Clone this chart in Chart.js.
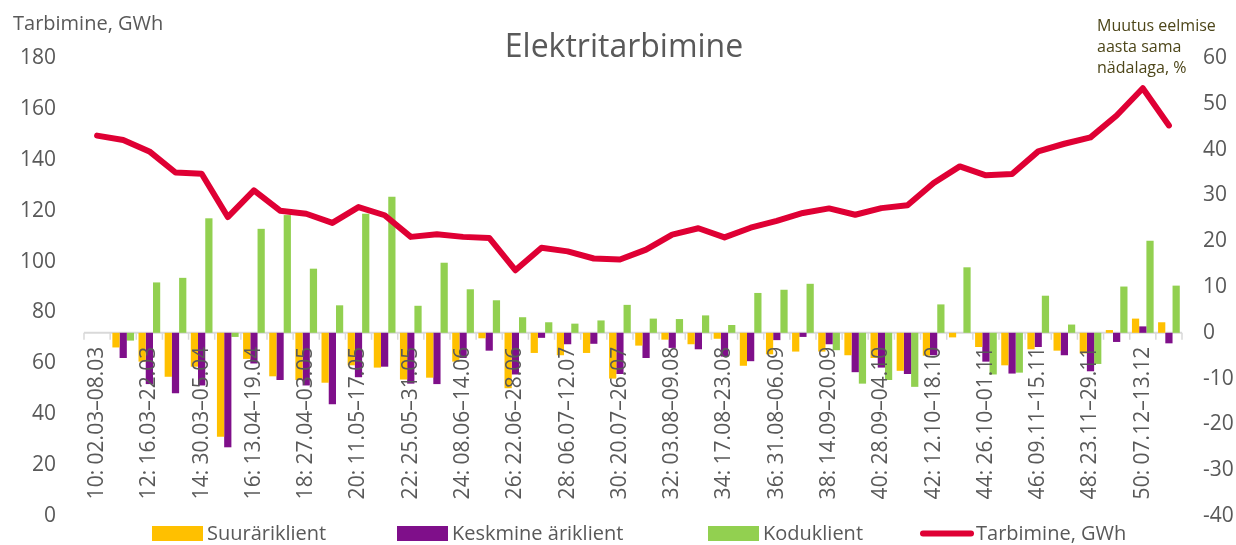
<!DOCTYPE html>
<html><head><meta charset="utf-8">
<script src="https://cdn.jsdelivr.net/npm/chart.js@4/dist/chart.umd.min.js"></script>
<style>html,body{margin:0;padding:0;background:#fff}</style>
</head><body>
<canvas id="c" width="1236" height="545"></canvas>
<script>
const weekLabels = [
 "10: 02.03–08.03","11: 09.03–15.03","12: 16.03–22.03","13: 23.03–29.03","14: 30.03–05.04",
 "15: 06.04–12.04","16: 13.04–19.04","17: 20.04–26.04","18: 27.04–03.05","19: 04.05–10.05",
 "20: 11.05–17.05","21: 18.05–24.05","22: 25.05–31.05","23: 01.06–07.06","24: 08.06–14.06",
 "25: 15.06–21.06","26: 22.06–28.06","27: 29.06–05.07","28: 06.07–12.07","29: 13.07–19.07",
 "30: 20.07–26.07","31: 27.07–02.08","32: 03.08–09.08","33: 10.08–16.08","34: 17.08–23.08",
 "35: 24.08–30.08","36: 31.08–06.09","37: 07.09–13.09","38: 14.09–20.09","39: 21.09–27.09",
 "40: 28.09–04.10","41: 05.10–11.10","42: 12.10–18.10","43: 19.10–25.10","44: 26.10–01.11",
 "45: 02.11–08.11","46: 09.11–15.11","47: 16.11–22.11","48: 23.11–29.11","49: 30.11–06.12",
 "50: 07.12–13.12","51: 14.12–20.12"
];
const suurariklient = [null,-3.2,-6.3,-9.6,-7.4,-22.7,-5.7,-9.5,-10.3,-10.9,-7.1,-7.6,-10.2,-9.8,-6.3,-1.2,-12.1,-4.4,-4.9,-4.4,-10.0,-2.8,-1.5,-2.5,-1.3,-7.2,-4.7,-4.1,-4.1,-4.9,-5.5,-8.3,-5.0,-1.0,-3.1,-7.1,-3.6,-3.9,-4.5,0.6,3.1,2.3];
const keskmineAriklient = [null,-5.5,-11.2,-13.2,-11.5,-25.0,-6.7,-10.3,-11.5,-15.6,-9.7,-7.4,-11.1,-11.2,-5.5,-3.9,-9.1,-1.1,-2.5,-2.4,-9.0,-5.5,-3.3,-3.6,-5.2,-6.2,-1.6,-0.9,-2.5,-8.6,-7.6,-9.0,-4.9,0.0,-6.3,-8.9,-3.1,-4.9,-8.4,-2.0,1.4,-2.3];
const koduklient = [null,-1.7,11.0,12.0,25.0,-0.9,22.7,25.7,14.0,6.0,26.0,29.7,5.9,15.3,9.5,7.1,3.4,2.3,2.0,2.7,6.1,3.1,3.0,3.8,1.7,8.7,9.4,10.7,-3.8,-11.1,-10.3,-11.8,6.2,14.3,-9.1,-8.7,8.1,1.8,-6.8,10.1,20.1,10.3];
const tarbimine = [149.5,147.8,143.3,135.0,134.5,117.5,128.0,120.0,118.8,115.2,121.4,118.2,109.7,110.7,109.7,109.3,96.6,105.4,104.0,101.2,100.8,104.7,110.6,113.1,109.5,113.3,116.0,119.1,120.9,118.4,121.0,122.1,130.9,137.4,133.9,134.4,143.3,146.3,148.8,157.4,168.1,153.5];

const FONT = "'Open Sans', sans-serif";
const GREY = '#595959';

const decor = {
  id: 'decor',
  beforeDatasetsDraw(chart) {
    const {ctx, chartArea, scales: {x, yR}} = chart;
    const y0 = yR.getPixelForValue(0);
    const n = weekLabels.length;
    const half = (x.getPixelForValue(1) - x.getPixelForValue(0)) / 2;
    ctx.save();
    ctx.strokeStyle = '#D9D9D9';
    ctx.lineWidth = 2;
    ctx.beginPath();
    ctx.moveTo(chartArea.left, y0); ctx.lineTo(chartArea.right, y0);
    ctx.stroke();
    ctx.lineWidth = 1.5;
    ctx.beginPath();
    for (let i = 0; i <= n; i++) {
      const px = i < n ? x.getPixelForValue(i) - half : x.getPixelForValue(n - 1) + half;
      ctx.moveTo(px, y0); ctx.lineTo(px, y0 + 7);
    }
    ctx.stroke();
    ctx.restore();
  },
  afterDatasetsDraw(chart) {
    const {ctx, scales: {x, yR}} = chart;
    const y0 = yR.getPixelForValue(0);
    ctx.save();
    ctx.font = '21px ' + FONT;
    ctx.fillStyle = GREY;
    ctx.textAlign = 'right';
    ctx.textBaseline = 'middle';
    weekLabels.forEach((lab, i) => {
      if (i % 2 !== 0) return;
      ctx.save();
      ctx.translate(x.getPixelForValue(i), y0 + 14);
      ctx.rotate(-Math.PI / 2);
      ctx.fillText(lab, 0, 0);
      ctx.restore();
    });
    ctx.restore();
  },
  afterDraw(chart) {
    const {ctx} = chart;
    ctx.save();
    ctx.fillStyle = GREY;
    ctx.textBaseline = 'alphabetic';
    ctx.textAlign = 'center';
    ctx.font = '32px ' + FONT;
    ctx.fillText('Elektritarbimine', 624, 57);
    ctx.textAlign = 'left';
    ctx.font = '20px ' + FONT;
    ctx.fillText('Tarbimine, GWh', 13, 30);
    ctx.fillStyle = '#4d4619';
    ctx.font = '16px ' + FONT;
    ['Muutus eelmise', 'aasta sama', 'nädalaga, %'].forEach((t, i) => ctx.fillText(t, 1097, 31 + i * 21));
    const entryX = [152, 397, 708, 921];
    ctx.font = '20px ' + FONT;
    chart.data.datasets.forEach((ds, i) => {
      const lx = entryX[i];
      if (ds.type === 'line') {
        ctx.strokeStyle = ds.borderColor;
        ctx.lineWidth = 6;
        ctx.lineCap = 'round';
        ctx.beginPath();
        ctx.moveTo(lx + 2, 533.5); ctx.lineTo(lx + 50, 533.5);
        ctx.stroke();
      } else {
        ctx.fillStyle = ds.backgroundColor;
        ctx.fillRect(lx, 526, 51, 15);
      }
      ctx.fillStyle = GREY;
      ctx.fillText(ds.label, lx + 55, 540);
    });
    ctx.restore();
  }
};

function fixAxis(width) {
  return function (s) { s.width = width; s.paddingTop = 0; s.paddingBottom = 0; };
}

new Chart(document.getElementById('c'), {
  type: 'bar',
  data: {
    labels: weekLabels,
    datasets: [
      {type: 'bar', label: 'Suuräriklient', data: suurariklient, backgroundColor: '#FFC000', yAxisID: 'yR', categoryPercentage: 0.83, barPercentage: 1, order: 1},
      {type: 'bar', label: 'Keskmine äriklient', data: keskmineAriklient, backgroundColor: '#7F0F8A', yAxisID: 'yR', categoryPercentage: 0.83, barPercentage: 1, order: 1},
      {type: 'bar', label: 'Koduklient', data: koduklient, backgroundColor: '#92D050', yAxisID: 'yR', categoryPercentage: 0.83, barPercentage: 1, order: 1},
      {type: 'line', label: 'Tarbimine, GWh', data: tarbimine, borderColor: '#DF0034', backgroundColor: '#DF0034', borderWidth: 6, pointRadius: 0, tension: 0, yAxisID: 'y', order: 0, borderJoinStyle: 'round', borderCapStyle: 'round'}
    ]
  },
  options: {
    responsive: false,
    animation: false,
    devicePixelRatio: 1,
    layout: {padding: {top: 58, bottom: 29, left: 0, right: 0}},
    plugins: {legend: {display: false}, title: {display: false}, tooltip: {enabled: false}},
    scales: {
      x: {display: false, offset: true, grid: {display: false}},
      y: {
        position: 'left', min: 0, max: 180,
        ticks: {stepSize: 20, color: GREY, font: {family: FONT, size: 21}, padding: 28},
        grid: {display: false, drawTicks: false}, border: {display: false},
        afterFit: fixAxis(84)
      },
      yR: {
        position: 'right', min: -40, max: 60,
        ticks: {stepSize: 10, color: GREY, font: {family: FONT, size: 21}, padding: 21},
        grid: {display: false, drawTicks: false}, border: {display: false},
        afterFit: fixAxis(54)
      }
    }
  },
  plugins: [decor]
});
</script>
</body></html>
